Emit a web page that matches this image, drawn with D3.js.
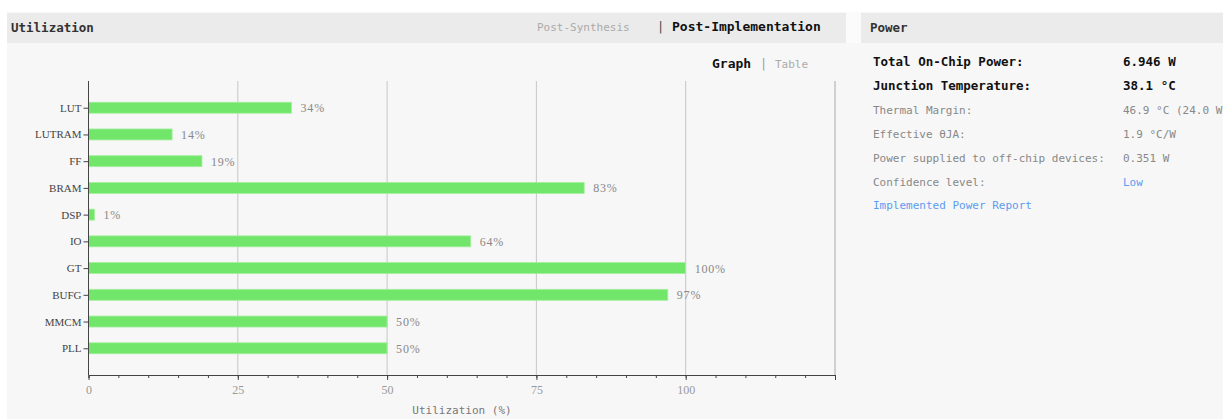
<!DOCTYPE html>
<html>
<head>
<meta charset="utf-8">
<script src="https://cdn.jsdelivr.net/npm/d3@7"></script>
<style>
  html, body { margin: 0; padding: 0; background: #fff; }
  svg { display: block; }
</style>
</head>
<body>
<div id="chart"></div>
<script>
const W = 1223, H = 419;

const categories = ['LUT', 'LUTRAM', 'FF', 'BRAM', 'DSP', 'IO', 'GT', 'BUFG', 'MMCM', 'PLL'];
const utilization = [34, 14, 19, 83, 1, 64, 100, 97, 50, 50];
const xTicks = [0, 25, 50, 75, 100, 125];
const xTickLabels = ['0', '25', '50', '75', '100', ''];

const powerLabels = ['Total On-Chip Power:', 'Junction Temperature:', 'Thermal Margin:',
  'Effective \u03B8JA:', 'Power supplied to off-chip devices:', 'Confidence level:'];
const powerValues = ['6.946 W', '38.1 \u00B0C', '46.9 \u00B0C (24.0 W)', '1.9 \u00B0C/W', '0.351 W', 'Low'];

const MONO = '"DejaVu Sans Mono", monospace';
const SERIF = '"Liberation Serif", "DejaVu Serif", serif';

const svg = d3.select('#chart').append('svg')
  .attr('width', W).attr('height', H)
  .attr('viewBox', [0, 0, W, H]);

// page + panels
svg.append('rect').attr('x', 0).attr('y', 0).attr('width', W).attr('height', H).attr('fill', '#f7f7f7');
svg.append('rect').attr('x', 0).attr('y', 0).attr('width', W).attr('height', 12).attr('fill', '#fff');
svg.append('rect').attr('x', 0).attr('y', 12).attr('width', 7).attr('height', H).attr('fill', '#fff');
svg.append('rect').attr('x', 7).attr('y', 13).attr('width', 839).attr('height', 30).attr('fill', '#ebebeb');
svg.append('rect').attr('x', 846).attr('y', 12).attr('width', 15).attr('height', 31).attr('fill', '#fbfbfb');
svg.append('rect').attr('x', 861).attr('y', 13).attr('width', W - 861).attr('height', 30).attr('fill', '#ebebeb');

// header texts
svg.append('text').attr('x', 11).attr('y', 32).attr('font-family', MONO).attr('font-size', 12.5)
  .attr('font-weight', 'bold').attr('fill', '#333').text('Utilization');
svg.append('text').attr('x', 537).attr('y', 31).attr('font-family', MONO).attr('font-size', 11)
  .attr('fill', '#aaa').text('Post-Synthesis');
svg.append('text').attr('x', 657).attr('y', 31).attr('font-family', MONO).attr('font-size', 12)
  .attr('fill', '#444').text('|');
svg.append('text').attr('x', 672).attr('y', 31).attr('font-family', MONO).attr('font-size', 13)
  .attr('font-weight', 'bold').attr('fill', '#111').text('Post-Implementation');
svg.append('text').attr('x', 870).attr('y', 32).attr('font-family', MONO).attr('font-size', 12.5)
  .attr('font-weight', 'bold').attr('fill', '#333').text('Power');

svg.append('text').attr('x', 712).attr('y', 68).attr('font-family', MONO).attr('font-size', 13)
  .attr('font-weight', 'bold').attr('fill', '#111').text('Graph');
svg.append('text').attr('x', 760).attr('y', 68).attr('font-family', MONO).attr('font-size', 12)
  .attr('fill', '#999').text('|');
svg.append('text').attr('x', 775).attr('y', 68).attr('font-family', MONO).attr('font-size', 11)
  .attr('fill', '#aaa').text('Table');

// chart
const plotTop = 81, plotBottom = 375, plotLeft = 88.5, plotRight = 835;
const x = d3.scaleLinear().domain([0, 125]).range([plotLeft, plotRight]);
const y = d3.scalePoint().domain(categories).range([plotTop, plotBottom]).padding(1);
const barH = 11;

const g = svg.append('g');

// grid
g.append('g').selectAll('line').data(xTicks.slice(1)).enter().append('line')
  .attr('x1', d => x(d)).attr('x2', d => x(d))
  .attr('y1', plotTop).attr('y2', plotBottom)
  .attr('stroke', d => d === 125 ? '#d0d0d0' : '#c6c6c6')
  .attr('stroke-width', d => d === 125 ? 2 : 1);

// bars
g.append('g').selectAll('rect').data(categories).enter().append('rect')
  .attr('x', x(0))
  .attr('y', d => y(d) - barH / 2)
  .attr('width', (d, i) => x(utilization[i]) - x(0))
  .attr('height', barH)
  .attr('fill', '#72e66b')
  .attr('stroke', '#a6ef9f').attr('stroke-width', 0.8);

g.append('g').selectAll('text').data(categories).enter().append('text')
  .attr('x', (d, i) => x(utilization[i]) + 9)
  .attr('y', d => y(d) + 4.5)
  .attr('font-family', SERIF).attr('font-size', 12)
  .attr('letter-spacing', 0.8)
  .attr('fill', '#888')
  .text((d, i) => utilization[i] + '%');

// y axis
const yAxis = g.append('g').attr('transform', `translate(${plotLeft},0)`)
  .call(d3.axisLeft(y).tickSize(5).tickSizeOuter(0));
yAxis.select('.domain').attr('d', `M0,${plotTop}V${plotBottom}`).attr('stroke', '#444');
yAxis.selectAll('.tick line').attr('stroke', '#444');
yAxis.selectAll('.tick text').attr('font-family', SERIF).attr('font-size', 11)
  .attr('fill', '#444').attr('x', -7);

// x axis minor ticks
const xMinor = g.append('g').attr('transform', `translate(0,${plotBottom})`)
  .call(d3.axisBottom(x).tickValues(d3.range(0, 126, 5)).tickSize(3).tickFormat(''));
xMinor.select('.domain').attr('stroke', '#444');
xMinor.selectAll('.tick line').attr('stroke', '#444');

const xAxis = g.append('g').attr('transform', `translate(0,${plotBottom})`)
  .call(d3.axisBottom(x).tickValues(xTicks).tickSize(5)
    .tickFormat((d, i) => xTickLabels[i]));
xAxis.select('.domain').remove();
xAxis.selectAll('.tick line').attr('stroke', '#444');
xAxis.selectAll('.tick text').attr('font-family', SERIF).attr('font-size', 12)
  .attr('fill', '#999').attr('dy', '0.9em');

svg.append('text').attr('x', 462).attr('y', 414).attr('text-anchor', 'middle')
  .attr('font-family', MONO).attr('font-size', 11).attr('fill', '#777')
  .text('Utilization (%)');

// power panel
const rowY = [66, 90, 114, 138, 162, 186];
const bold = [true, true, false, false, false, false];
const p = svg.append('g');
p.selectAll('text.lbl').data(powerLabels).enter().append('text')
  .attr('class', 'lbl')
  .attr('x', 873).attr('y', (d, i) => rowY[i])
  .attr('font-family', MONO)
  .attr('font-size', (d, i) => bold[i] ? 12.5 : 11)
  .attr('font-weight', (d, i) => bold[i] ? 'bold' : 'normal')
  .attr('fill', (d, i) => bold[i] ? '#111' : '#888')
  .text(d => d);
p.selectAll('text.val').data(powerValues).enter().append('text')
  .attr('class', 'val')
  .attr('x', 1123).attr('y', (d, i) => rowY[i])
  .attr('font-family', MONO)
  .attr('font-size', (d, i) => bold[i] ? 12.5 : 11)
  .attr('font-weight', (d, i) => bold[i] ? 'bold' : 'normal')
  .attr('fill', (d, i) => i === 5 ? '#5b9cf0' : (bold[i] ? '#111' : '#888'))
  .text(d => d);
p.append('text').attr('x', 873).attr('y', 209).attr('font-family', MONO).attr('font-size', 11)
  .attr('fill', '#5b9cf0').text('Implemented Power Report');
</script>
</body>
</html>
